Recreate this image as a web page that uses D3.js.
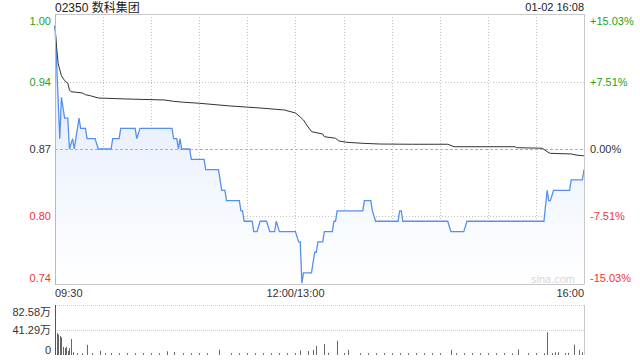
<!DOCTYPE html>
<html><head><meta charset="utf-8">
<script src="https://cdn.jsdelivr.net/npm/d3@7"></script>
<style>
html,body{margin:0;padding:0;background:#fff;}
svg{display:block;font-family:"Liberation Sans",Arial,"Noto Sans CJK SC",sans-serif;}
</style></head><body>
<svg id="c" width="640" height="360"></svg>
<script>
// ---- data ----
const title = "02350 数科集团";
const stamp = "01-02 16:08";
const prevClose = 0.87;
const timeLabels = ["09:30", "12:00/13:00", "16:00"];
const timeLabelMin = [0, 150, 330];
const priceMin = [0,3,4,6,8,9,11,12,15,16,19,20,25,27,35,36,40,41,50,51,53,73,74,76,77,78,79,84,85,93,94,102,104,106,107,115,116,117,118,123,124,126,128,132,134,137,138,140,150,152,153,154,155,160,162,163,164,167,168,173,174,175,176,192,193,197,198,200,214,215,216,217,245,247,255,257,305,307,308,309,311,321,322,329,330];
const priceVal = [0.99,0.88,0.92,0.90,0.90,0.87,0.88,0.87,0.90,0.89,0.89,0.88,0.88,0.87,0.87,0.88,0.88,0.89,0.89,0.88,0.89,0.89,0.88,0.88,0.87,0.88,0.87,0.87,0.86,0.86,0.85,0.85,0.83,0.83,0.82,0.82,0.81,0.81,0.80,0.80,0.79,0.79,0.80,0.80,0.79,0.79,0.80,0.79,0.79,0.78,0.78,0.74,0.75,0.75,0.77,0.77,0.78,0.78,0.79,0.79,0.80,0.80,0.81,0.81,0.82,0.82,0.81,0.80,0.80,0.81,0.81,0.80,0.80,0.79,0.79,0.80,0.80,0.83,0.82,0.82,0.83,0.83,0.84,0.84,0.85];
const avgMin = [0,1,2,4,6,8,9,10,17,19,22,27,45,68,74,80,90,109,128,143,150,153,155,157,160,167,168,175,177,182,192,203,223,245,249,287,288,304,307,309,322,325,329,330];
const avgVal = [0.989,0.9686,0.9524,0.941,0.9362,0.9337,0.9272,0.9255,0.9243,0.9226,0.9216,0.9194,0.9184,0.9175,0.9162,0.9153,0.9143,0.9117,0.9097,0.9078,0.9049,0.901,0.8981,0.8933,0.8868,0.8845,0.8819,0.8804,0.8778,0.8765,0.8755,0.8748,0.8746,0.8746,0.8722,0.8722,0.8713,0.8707,0.8674,0.8658,0.8652,0.8642,0.8635,0.8635];
const volMin = [0,1,2,3,4,5,6,7,8,9,10,11,14,17,20,23,28,31,35,40,45,50,55,60,65,70,74,80,85,90,95,102,110,115,120,125,130,135,140,145,150,153,158,161,163,168,170,176,180,183,190,195,200,205,210,215,220,225,230,235,240,247,250,255,260,265,270,275,280,285,289,295,300,305,307,310,312,314,318,320,324,327,329];
const volVal = [82.58,34.9,33,30,28,12,10,12,5,10,25.3,3,1.5,1.2,15.5,1.3,5.5,1.2,1.5,1.2,1.4,1.2,1.5,1.3,1.2,4.5,3.5,1.3,1.2,1.5,1.2,7,1.3,1.2,1.5,1.2,1.3,1.2,1.5,1.3,1.5,6,5,7,13.8,16.7,2,22.4,1.5,6.9,1.2,1.3,1.2,1.5,1.2,1.3,1.2,1.5,1.2,1.3,1.2,6.9,1.3,1.2,1.5,1.2,1.3,1.2,1.5,1.2,7.6,1.3,1.5,1.2,36.3,1.5,3,3,1.5,2,15.5,6.9,3];
const priceTickLabels = ["1.00", "0.94", "0.87", "0.80", "0.74"];
const pctTicks = [15.03, 7.51, 0, -7.51, -15.03];
const pctTickLabels = ["+15.03%", "+7.51%", "0.00%", "-7.51%", "-15.03%"];
const volTicks = [82.58, 41.29, 0];
const volTickLabels = ["82.58万", "41.29万", "0"];

// ---- layout ----
const L = 55, R = 584, T = 14, B = 284, VT = 305, VB = 354;
const GREEN = "#21a321", RED = "#f23434", DARK = "#333";
const svg = d3.select("#c");
const x = d3.scaleLinear().domain([0, 330]).range([L, R]);
const yPct = d3.scaleLinear().domain([-15.03, 15.03]).range([B, T]);
const yP = p => yPct((p / prevClose - 1) * 100);
const yV = d3.scaleLinear().domain([0, 82.58]).range([VB, VT]);

const defs = svg.append("defs");
const grad = defs.append("linearGradient").attr("id", "g")
  .attr("gradientUnits", "userSpaceOnUse").attr("x1", 0).attr("y1", T).attr("x2", 0).attr("y2", B);
grad.append("stop").attr("offset", 0).attr("stop-color", "#dbe6fb");
grad.append("stop").attr("offset", 1).attr("stop-color", "#ffffff");

// vertical grid
const vg = d3.range(30, 330, 30);
svg.append("g").selectAll("line").data(vg).join("line")
  .attr("x1", d => Math.round(x(d)) + 0.5).attr("x2", d => Math.round(x(d)) + 0.5).attr("y1", T).attr("y2", B)
  .attr("stroke", "#c4c4c4").attr("stroke-dasharray", "1,2");
// horizontal grid
svg.append("g").selectAll("line").data([7.51, -7.51]).join("line")
  .attr("x1", L).attr("x2", R).attr("y1", d => Math.round(yPct(d)) + 0.5).attr("y2", d => Math.round(yPct(d)) + 0.5)
  .attr("stroke", "#c4c4c4").attr("stroke-dasharray", "1,2");

// area + lines
const pts = priceMin.map((m, i) => [m, priceVal[i]]);
svg.append("path").datum(pts)
  .attr("d", d3.area().x(d => x(d[0])).y0(B).y1(d => yP(d[1])))
  .attr("fill", "url(#g)");
svg.append("line").attr("x1", L).attr("x2", R).attr("y1", Math.round(yPct(0)) + 0.5).attr("y2", Math.round(yPct(0)) + 0.5)
  .attr("stroke", "#b0b0b0").attr("stroke-dasharray", "3,2");
svg.append("path").datum(pts)
  .attr("d", d3.line().x(d => x(d[0])).y(d => yP(d[1])))
  .attr("fill", "none").attr("stroke", "#5590f0").attr("stroke-width", 1.3);
const apts = avgMin.map((m, i) => [m, avgVal[i]]);
svg.append("path").datum(apts)
  .attr("d", d3.line().x(d => x(d[0])).y(d => yP(d[1])))
  .attr("fill", "none").attr("stroke", "#333").attr("stroke-width", 1);

// frame
const fr = svg.append("g").attr("stroke", "#c8c8c8").attr("fill", "none");
fr.append("line").attr("x1", L).attr("x2", R + 0.5).attr("y1", T + 0.5).attr("y2", T + 0.5);
fr.append("line").attr("x1", L).attr("x2", R + 0.5).attr("y1", B + 0.5).attr("y2", B + 0.5);
fr.append("line").attr("x1", R + 0.5).attr("x2", R + 0.5).attr("y1", T).attr("y2", B);
fr.append("line").attr("x1", L + 0.5).attr("x2", L + 0.5).attr("y1", T).attr("y2", B + 1).attr("stroke", "#b8b8b8");

// watermark
svg.append("text").attr("x", 553).attr("y", 283).attr("text-anchor", "middle")
  .attr("font-size", 11).attr("fill", "#d6d6d6").text("sina.com");

// axis labels
const labY = (v, i, n) => {
  const c = yPct(v);
  if (i === 0) return c + 7 + 4;
  if (i === n - 1) return c - 6 + 4;
  return c + 4;
};
const colorFor = v => v > 0 ? GREEN : (v < 0 ? RED : DARK);
svg.append("g").selectAll("text").data(pctTicks).join("text")
  .attr("x", 51).attr("y", (d, i) => labY(d, i, pctTicks.length)).attr("text-anchor", "end")
  .attr("font-size", 11).attr("fill", d => colorFor(d)).text((d, i) => priceTickLabels[i]);
svg.append("g").selectAll("text").data(pctTicks).join("text")
  .attr("x", 590).attr("y", (d, i) => labY(d, i, pctTicks.length)).attr("text-anchor", "start")
  .attr("font-size", 11).attr("fill", d => colorFor(d)).text((d, i) => pctTickLabels[i]);

// time labels
svg.append("g").selectAll("text").data(timeLabelMin).join("text")
  .attr("x", d => x(d)).attr("y", 297)
  .attr("text-anchor", (d, i) => i === 0 ? "start" : (i === timeLabelMin.length - 1 ? "end" : "middle"))
  .attr("font-size", 11).attr("fill", DARK).text((d, i) => timeLabels[i]);

// header
svg.append("text").attr("x", L).attr("y", 12).attr("font-size", 12).attr("fill", "#222").text(title);
svg.append("text").attr("x", R).attr("y", 11).attr("text-anchor", "end").attr("font-size", 11).attr("fill", "#222").text(stamp);

// volume panel
svg.append("g").selectAll("line").data([82.58, 41.29]).join("line")
  .attr("x1", L).attr("x2", R).attr("y1", d => Math.round(yV(d)) + 0.5).attr("y2", d => Math.round(yV(d)) + 0.5)
  .attr("stroke", "#cfcfcf").attr("stroke-dasharray", "1,1");
svg.append("line").attr("x1", R + 0.5).attr("x2", R + 0.5).attr("y1", VT).attr("y2", VB + 1).attr("stroke", "#c8c8c8");
svg.append("g").selectAll("line").data(volMin.map((m, i) => [m, volVal[i]])).join("line")
  .attr("x1", d => Math.round(x(d[0])) + 0.5).attr("x2", d => Math.round(x(d[0])) + 0.5)
  .attr("y1", VB + 1).attr("y2", d => Math.min(VB, yV(d[1])))
  .attr("stroke", "#666").attr("stroke-width", 1);
svg.append("line").attr("x1", L + 0.5).attr("x2", L + 0.5).attr("y1", VT).attr("y2", VB + 1).attr("stroke", "#555");
svg.append("g").selectAll("text").data(volTicks).join("text")
  .attr("x", 51).attr("y", (d, i) => i === 0 ? yV(d) + 7 + 4 : (i === volTicks.length - 1 ? yV(d) - 4 + 4 : yV(d) + 4))
  .attr("text-anchor", "end").attr("font-size", 11).attr("fill", DARK).text((d, i) => volTickLabels[i]);
</script>
</body></html>
